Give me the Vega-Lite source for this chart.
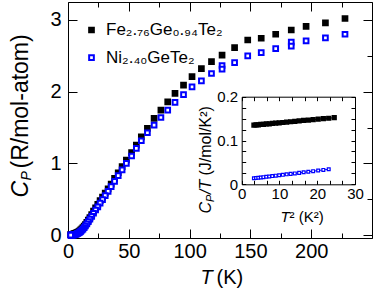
{
  "$schema": "https://vega.github.io/schema/vega-lite/v6.json",
  "width": 304,
  "height": 236,
  "autosize": "none",
  "padding": {"left": 68, "top": 2, "right": 2, "bottom": 53},
  "background": "white",
  "datasets": {
    "main": [
      {"s":"Fe","T":227.8,"C":3.02},{"s":"Fe","T":211.7,"C":2.96},{"s":"Fe","T":195.8,"C":2.91},{"s":"Fe","T":183.6,"C":2.86},{"s":"Fe","T":170.8,"C":2.80},{"s":"Fe","T":158.9,"C":2.745},{"s":"Fe","T":147.8,"C":2.72},{"s":"Fe","T":137,"C":2.615},{"s":"Fe","T":126.7,"C":2.51},{"s":"Fe","T":118,"C":2.42},{"s":"Fe","T":109.7,"C":2.32},{"s":"Fe","T":102,"C":2.21},{"s":"Fe","T":95,"C":2.09},{"s":"Fe","T":88,"C":1.975},{"s":"Fe","T":82,"C":1.858},{"s":"Fe","T":76.4,"C":1.743},{"s":"Fe","T":70.8,"C":1.627},{"s":"Fe","T":65.3,"C":1.488},{"s":"Fe","T":60.3,"C":1.371},{"s":"Fe","T":56.2,"C":1.256},{"s":"Fe","T":52.3,"C":1.149},{"s":"Fe","T":48,"C":1.047},{"s":"Fe","T":44.5,"C":0.954},{"s":"Fe","T":41.3,"C":0.87},{"s":"Fe","T":38.3,"C":0.79},{"s":"Fe","T":35.5,"C":0.71},{"s":"Fe","T":33,"C":0.645},{"s":"Fe","T":30.6,"C":0.585},{"s":"Fe","T":28.4,"C":0.53},{"s":"Fe","T":26.4,"C":0.48},{"s":"Fe","T":24.5,"C":0.43},{"s":"Fe","T":22.7,"C":0.38},{"s":"Fe","T":21,"C":0.335},{"s":"Fe","T":19.5,"C":0.287},{"s":"Fe","T":18,"C":0.244},{"s":"Fe","T":16.7,"C":0.208},{"s":"Fe","T":15.5,"C":0.177},{"s":"Fe","T":14.3,"C":0.148},{"s":"Fe","T":13.3,"C":0.125},{"s":"Fe","T":12.3,"C":0.104},{"s":"Fe","T":11.4,"C":0.087},{"s":"Fe","T":10.5,"C":0.072},{"s":"Fe","T":9.7,"C":0.06},{"s":"Fe","T":9,"C":0.051},{"s":"Fe","T":8.3,"C":0.043},{"s":"Fe","T":7.7,"C":0.037},{"s":"Fe","T":7.1,"C":0.032},{"s":"Fe","T":6.6,"C":0.028},{"s":"Fe","T":6.1,"C":0.024},{"s":"Fe","T":5.6,"C":0.021},{"s":"Fe","T":5.2,"C":0.018},{"s":"Fe","T":4.8,"C":0.016},{"s":"Fe","T":4.4,"C":0.014},{"s":"Fe","T":4,"C":0.012},{"s":"Fe","T":3.7,"C":0.011},{"s":"Fe","T":3.4,"C":0.01},{"s":"Fe","T":3.1,"C":0.009},{"s":"Fe","T":2.8,"C":0.008},{"s":"Fe","T":2.5,"C":0.007},{"s":"Fe","T":2.2,"C":0.006},
      {"s":"Ni","T":227.8,"C":2.80},{"s":"Ni","T":211.7,"C":2.75},{"s":"Ni","T":195.8,"C":2.707},{"s":"Ni","T":183.6,"C":2.69},{"s":"Ni","T":183.6,"C":2.635},{"s":"Ni","T":170.8,"C":2.60},{"s":"Ni","T":158.9,"C":2.545},{"s":"Ni","T":147.8,"C":2.50},{"s":"Ni","T":137,"C":2.406},{"s":"Ni","T":126.7,"C":2.365},{"s":"Ni","T":126.7,"C":2.315},{"s":"Ni","T":118,"C":2.253},{"s":"Ni","T":109.7,"C":2.15},{"s":"Ni","T":102,"C":2.067},{"s":"Ni","T":95,"C":1.96},{"s":"Ni","T":88,"C":1.85},{"s":"Ni","T":82,"C":1.743},{"s":"Ni","T":76.4,"C":1.64},{"s":"Ni","T":70.8,"C":1.534},{"s":"Ni","T":65.3,"C":1.427},{"s":"Ni","T":60.3,"C":1.316},{"s":"Ni","T":56.2,"C":1.21},{"s":"Ni","T":52.3,"C":1.103},{"s":"Ni","T":48,"C":1.0},{"s":"Ni","T":44.5,"C":0.91},{"s":"Ni","T":41.3,"C":0.83},{"s":"Ni","T":38.3,"C":0.75},{"s":"Ni","T":35.5,"C":0.675},{"s":"Ni","T":33,"C":0.61},{"s":"Ni","T":30.6,"C":0.55},{"s":"Ni","T":28.4,"C":0.495},{"s":"Ni","T":26.4,"C":0.445},{"s":"Ni","T":24.5,"C":0.395},{"s":"Ni","T":22.7,"C":0.35},{"s":"Ni","T":21,"C":0.305},{"s":"Ni","T":19.5,"C":0.262},{"s":"Ni","T":18,"C":0.222},{"s":"Ni","T":16.7,"C":0.188},{"s":"Ni","T":15.5,"C":0.157},{"s":"Ni","T":14.3,"C":0.128},{"s":"Ni","T":13.3,"C":0.105},{"s":"Ni","T":12.3,"C":0.085},{"s":"Ni","T":11.4,"C":0.068},{"s":"Ni","T":10.5,"C":0.053},{"s":"Ni","T":9.7,"C":0.042},{"s":"Ni","T":9,"C":0.033},{"s":"Ni","T":8.3,"C":0.026},{"s":"Ni","T":7.7,"C":0.02},{"s":"Ni","T":7.1,"C":0.016},{"s":"Ni","T":6.6,"C":0.012},{"s":"Ni","T":6.1,"C":0.009},{"s":"Ni","T":5.6,"C":0.007},{"s":"Ni","T":5.2,"C":0.0055},{"s":"Ni","T":4.8,"C":0.0045},{"s":"Ni","T":4.4,"C":0.0035},{"s":"Ni","T":4,"C":0.003},{"s":"Ni","T":3.7,"C":0.0025},{"s":"Ni","T":3.4,"C":0.002},{"s":"Ni","T":3.1,"C":0.0017},{"s":"Ni","T":2.8,"C":0.0014},{"s":"Ni","T":2.5,"C":0.0012},{"s":"Ni","T":2.2,"C":0.001}
    ],
    "inset": [
      {"s":"Fe","X":3.24,"Y":0.1351},{"s":"Fe","X":3.8,"Y":0.1356},{"s":"Fe","X":4.41,"Y":0.1359},{"s":"Fe","X":5.06,"Y":0.1366},{"s":"Fe","X":5.76,"Y":0.137},{"s":"Fe","X":6.5,"Y":0.1378},{"s":"Fe","X":7.29,"Y":0.1382},{"s":"Fe","X":8.12,"Y":0.1391},{"s":"Fe","X":9,"Y":0.1396},{"s":"Fe","X":9.92,"Y":0.1405},{"s":"Fe","X":10.89,"Y":0.1411},{"s":"Fe","X":11.9,"Y":0.1421},{"s":"Fe","X":12.96,"Y":0.1428},{"s":"Fe","X":14.06,"Y":0.1438},{"s":"Fe","X":15.21,"Y":0.1446},{"s":"Fe","X":16.4,"Y":0.1457},{"s":"Fe","X":17.64,"Y":0.1465},{"s":"Fe","X":18.92,"Y":0.1477},{"s":"Fe","X":20.25,"Y":0.1486},{"s":"Fe","X":21.62,"Y":0.1499},{"s":"Fe","X":23.04,"Y":0.1508},{"s":"Fe","X":24.5,"Y":0.1521},
      {"s":"Ni","X":3.24,"Y":0.0137},{"s":"Ni","X":3.8,"Y":0.0143},{"s":"Ni","X":4.41,"Y":0.0149},{"s":"Ni","X":5.06,"Y":0.0156},{"s":"Ni","X":5.76,"Y":0.0163},{"s":"Ni","X":6.5,"Y":0.0171},{"s":"Ni","X":7.29,"Y":0.0179},{"s":"Ni","X":8.12,"Y":0.0187},{"s":"Ni","X":9,"Y":0.0197},{"s":"Ni","X":9.92,"Y":0.0206},{"s":"Ni","X":10.89,"Y":0.0216},{"s":"Ni","X":11.9,"Y":0.0227},{"s":"Ni","X":12.96,"Y":0.0238},{"s":"Ni","X":14.06,"Y":0.0249},{"s":"Ni","X":15.21,"Y":0.0261},{"s":"Ni","X":16.4,"Y":0.0274},{"s":"Ni","X":17.64,"Y":0.0286},{"s":"Ni","X":18.92,"Y":0.03},{"s":"Ni","X":20.25,"Y":0.0314},{"s":"Ni","X":21.62,"Y":0.0328},{"s":"Ni","X":23.04,"Y":0.0343}
    ]
  },
  "config": {
    "font": "Liberation Sans",
    "view": {"stroke": "black", "strokeWidth": 1},
    "axis": {"grid": false, "domain": false, "domainColor": "black", "domainWidth": 1, "tickColor": "black", "tickWidth": 1, "labelColor": "black", "titleColor": "black", "labelFont": "Liberation Sans", "titleFont": "Liberation Sans", "titleFontWeight": "normal", "labelFlush": false, "labelOverlap": false, "labelBound": false, "titleAlign": "left", "titleBaseline": "alphabetic", "titlePadding": 0},
    "legend": {"labelFont": "Liberation Sans"}
  },
  "layer": [
    {
      "data": {"name": "main"},
      "layer": [
        {
          "transform": [{"filter": "datum.s == 'Fe'"}],
          "mark": {"type": "point", "shape": "square", "size": 22, "strokeWidth": 2, "opacity": 1},
          "encoding": {
            "x": {"field": "T", "type": "quantitative", "scale": {"domain": [0, 250], "nice": false, "zero": false},
              "axis": {"orient": "bottom", "values": [0,25,50,75,100,125,150,175,200,225,250], "format": "d", "tickSize": {"condition": {"test": "datum.value % 50 == 0", "value": -9}, "value": -5}, "labelExpr": "datum.value % 50 == 0 && datum.value <= 200 ? datum.label : ''", "labelFontSize": 20, "labelPadding": 12, "title": "T", "titleFontStyle": "italic", "titleFontSize": 20, "titleX": 132, "titleY": 45, "titleAngle": 0}},
            "y": {"field": "C", "type": "quantitative", "scale": {"domain": [-0.04, 3.25], "nice": false, "zero": false},
              "axis": {"orient": "left", "values": [0,0.5,1,1.5,2,2.5,3], "format": "d", "tickSize": {"condition": {"test": "datum.value % 1 == 0", "value": -9}, "value": -5}, "labelExpr": "datum.value % 1 == 0 ? datum.label : ''", "labelFontSize": 20, "labelPadding": 16, "title": "C", "titleFontStyle": "italic", "titleFontSize": 23, "titleX": -41, "titleY": 195, "titleAngle": 270}},
            "fill": {"field": "s", "type": "nominal", "scale": {"domain": ["Fe", "Ni"], "range": ["black", "white"]},
              "legend": {"orient": "none", "legendX": 15, "legendY": 19.5, "title": null, "labelExpr": "datum.label == 'Fe' ? 'Fe₂.₇₆Ge₀.₉₄Te₂' : 'Ni₂.₄₀GeTe₂'", "labelFontSize": 17, "labelColor": "black", "symbolType": "square", "symbolSize": 22, "symbolStrokeWidth": 2, "rowPadding": 9.7, "labelOffset": 6, "padding": 0}},
            "stroke": {"field": "s", "type": "nominal", "scale": {"domain": ["Fe", "Ni"], "range": ["black", "#0000ff"]},
              "legend": {"orient": "none", "legendX": 15, "legendY": 19.5, "title": null, "labelExpr": "datum.label == 'Fe' ? 'Fe₂.₇₆Ge₀.₉₄Te₂' : 'Ni₂.₄₀GeTe₂'", "labelFontSize": 17, "labelColor": "black", "symbolType": "square", "symbolSize": 22, "symbolStrokeWidth": 2, "rowPadding": 9.7, "labelOffset": 6, "padding": 0}}
          }
        },
        {
          "transform": [{"filter": "datum.s == 'Ni'"}],
          "mark": {"type": "point", "shape": "square", "size": 22, "strokeWidth": 2, "opacity": 1},
          "encoding": {
            "x": {"field": "T", "type": "quantitative", "scale": {"domain": [0, 250], "nice": false, "zero": false},
              "axis": {"orient": "top", "values": [0,25,50,75,100,125,150,175,200,225,250], "tickSize": {"condition": {"test": "datum.value % 50 == 0", "value": -9}, "value": -5}, "labels": false, "title": "(K)", "titleFontSize": 20, "titleX": 148, "titleY": 281, "titleAngle": 0}},
            "y": {"field": "C", "type": "quantitative", "scale": {"domain": [-0.04, 3.25], "nice": false, "zero": false},
              "axis": {"orient": "right", "values": [0,0.5,1,1.5,2,2.5,3], "tickSize": {"condition": {"test": "datum.value % 1 == 0", "value": -9}, "value": -5}, "labels": false, "title": "P", "titleFontStyle": "italic", "titleFontSize": 14, "titleX": -342, "titleY": 178, "titleAngle": 270}},
            "fill": {"field": "s", "type": "nominal", "scale": {"domain": ["Fe", "Ni"], "range": ["black", "white"]},
              "legend": {"orient": "none", "legendX": 15, "legendY": 19.5, "title": null, "labelExpr": "datum.label == 'Fe' ? 'Fe₂.₇₆Ge₀.₉₄Te₂' : 'Ni₂.₄₀GeTe₂'", "labelFontSize": 17, "labelColor": "black", "symbolType": "square", "symbolSize": 22, "symbolStrokeWidth": 2, "rowPadding": 9.7, "labelOffset": 6, "padding": 0}},
            "stroke": {"field": "s", "type": "nominal", "scale": {"domain": ["Fe", "Ni"], "range": ["black", "#0000ff"]},
              "legend": {"orient": "none", "legendX": 15, "legendY": 19.5, "title": null, "labelExpr": "datum.label == 'Fe' ? 'Fe₂.₇₆Ge₀.₉₄Te₂' : 'Ni₂.₄₀GeTe₂'", "labelFontSize": 17, "labelColor": "black", "symbolType": "square", "symbolSize": 22, "symbolStrokeWidth": 2, "rowPadding": 9.7, "labelOffset": 6, "padding": 0}}
          }
        },
        {
          "mark": {"type": "point", "opacity": 0},
          "encoding": {
            "x": {"field": "T", "type": "quantitative", "scale": {"domain": [0, 250], "nice": false, "zero": false}, "axis": null},
            "y": {"field": "C", "type": "quantitative", "scale": {"domain": [-0.04, 3.25], "nice": false, "zero": false},
              "axis": {"orient": "left", "ticks": false, "labels": false, "title": "(R/mol-atom)", "titleFontSize": 23, "titleX": -41, "titleY": 166, "titleAngle": 270}}
          }
        }
      ],
      "resolve": {"axis": {"x": "independent", "y": "independent"}}
    },
    {
      "data": {"name": "inset"},
      "layer": [
        {
          "mark": {"type": "line", "strokeWidth": 1},
          "encoding": {
            "x": {"field": "X", "type": "quantitative", "scale": {"domain": [0, 30], "range": [173.7, 287], "nice": false, "zero": false},
              "axis": {"orient": "bottom", "ticks": false, "labels": false, "title": "/T", "titleFontStyle": "italic", "titleFontSize": 16, "titleX": 142, "titleY": -44.5, "titleAngle": 270}},
            "y": {"field": "Y", "type": "quantitative", "scale": {"domain": [0, 0.2], "range": [182.3, 94.7], "nice": false, "zero": false},
              "axis": {"orient": "left", "ticks": false, "labels": false, "title": "(J/mol/K²)", "titleFontSize": 16, "titleX": 142, "titleY": 173, "titleAngle": 270}},
            "stroke": {"field": "s", "type": "nominal", "scale": {"domain": ["Fe", "Ni"], "range": ["black", "#0000ff"]},
              "legend": {"orient": "none", "legendX": 15, "legendY": 19.5, "title": null, "labelExpr": "datum.label == 'Fe' ? 'Fe₂.₇₆Ge₀.₉₄Te₂' : 'Ni₂.₄₀GeTe₂'", "labelFontSize": 17, "labelColor": "black", "symbolType": "square", "symbolSize": 22, "symbolStrokeWidth": 2, "rowPadding": 9.7, "labelOffset": 6, "padding": 0}}
          }
        },
        {
          "transform": [{"filter": "datum.s == 'Fe'"}],
          "mark": {"type": "point", "shape": "square", "size": 14, "strokeWidth": 1.5, "opacity": 1},
          "encoding": {
            "x": {"field": "X", "type": "quantitative", "scale": {"domain": [0, 30], "range": [173.7, 287], "nice": false, "zero": false},
              "axis": {"orient": "bottom", "offset": -53.7, "domain": true, "values": [0,3.3333,6.6667,10,13.3333,16.6667,20,23.3333,26.6667,30], "format": "~g", "tickSize": -4, "labelExpr": "datum.value % 10 == 0 ? datum.label : ''", "labelFontSize": 15, "labelPadding": 6, "title": "T", "titleFontStyle": "italic", "titleFontSize": 15, "titleX": 212, "titleY": 36.7, "titleAngle": 0}},
            "y": {"field": "Y", "type": "quantitative", "scale": {"domain": [0, 0.2], "range": [182.3, 94.7], "nice": false, "zero": false},
              "axis": {"orient": "left", "offset": -173.7, "domain": true, "values": [0,0.025,0.05,0.075,0.1,0.125,0.15,0.175,0.2], "format": "~g", "tickSize": -4, "labelExpr": "indexof([0,0.1,0.2], datum.value) >= 0 ? datum.label : ''", "labelFontSize": 15, "labelPadding": 8, "title": "C", "titleFontStyle": "italic", "titleFontSize": 16, "titleX": -31.7, "titleY": 211, "titleAngle": 270}},
            "fill": {"field": "s", "type": "nominal", "scale": {"domain": ["Fe", "Ni"], "range": ["black", "white"]},
              "legend": {"orient": "none", "legendX": 15, "legendY": 19.5, "title": null, "labelExpr": "datum.label == 'Fe' ? 'Fe₂.₇₆Ge₀.₉₄Te₂' : 'Ni₂.₄₀GeTe₂'", "labelFontSize": 17, "labelColor": "black", "symbolType": "square", "symbolSize": 22, "symbolStrokeWidth": 2, "rowPadding": 9.7, "labelOffset": 6, "padding": 0}},
            "stroke": {"field": "s", "type": "nominal", "scale": {"domain": ["Fe", "Ni"], "range": ["black", "#0000ff"]},
              "legend": {"orient": "none", "legendX": 15, "legendY": 19.5, "title": null, "labelExpr": "datum.label == 'Fe' ? 'Fe₂.₇₆Ge₀.₉₄Te₂' : 'Ni₂.₄₀GeTe₂'", "labelFontSize": 17, "labelColor": "black", "symbolType": "square", "symbolSize": 22, "symbolStrokeWidth": 2, "rowPadding": 9.7, "labelOffset": 6, "padding": 0}}
          }
        },
        {
          "transform": [{"filter": "datum.s == 'Ni'"}],
          "mark": {"type": "point", "shape": "square", "size": 8, "strokeWidth": 1.2, "opacity": 1},
          "encoding": {
            "x": {"field": "X", "type": "quantitative", "scale": {"domain": [0, 30], "range": [173.7, 287], "nice": false, "zero": false},
              "axis": {"orient": "top", "offset": -94.7, "domain": true, "values": [0,3.3333,6.6667,10,13.3333,16.6667,20,23.3333,26.6667,30], "tickSize": -4, "labels": false, "title": "² (K²)", "titleFontSize": 15, "titleX": 221, "titleY": 124.3, "titleAngle": 0}},
            "y": {"field": "Y", "type": "quantitative", "scale": {"domain": [0, 0.2], "range": [182.3, 94.7], "nice": false, "zero": false},
              "axis": {"orient": "right", "offset": -17, "domain": true, "values": [0,0.025,0.05,0.075,0.1,0.125,0.15,0.175,0.2], "tickSize": -4, "labels": false, "title": "P", "titleFontStyle": "italic", "titleFontSize": 11, "titleX": -142, "titleY": 199.4, "titleAngle": 270}},
            "fill": {"field": "s", "type": "nominal", "scale": {"domain": ["Fe", "Ni"], "range": ["black", "white"]},
              "legend": {"orient": "none", "legendX": 15, "legendY": 19.5, "title": null, "labelExpr": "datum.label == 'Fe' ? 'Fe₂.₇₆Ge₀.₉₄Te₂' : 'Ni₂.₄₀GeTe₂'", "labelFontSize": 17, "labelColor": "black", "symbolType": "square", "symbolSize": 22, "symbolStrokeWidth": 2, "rowPadding": 9.7, "labelOffset": 6, "padding": 0}},
            "stroke": {"field": "s", "type": "nominal", "scale": {"domain": ["Fe", "Ni"], "range": ["black", "#0000ff"]},
              "legend": {"orient": "none", "legendX": 15, "legendY": 19.5, "title": null, "labelExpr": "datum.label == 'Fe' ? 'Fe₂.₇₆Ge₀.₉₄Te₂' : 'Ni₂.₄₀GeTe₂'", "labelFontSize": 17, "labelColor": "black", "symbolType": "square", "symbolSize": 22, "symbolStrokeWidth": 2, "rowPadding": 9.7, "labelOffset": 6, "padding": 0}}
          }
        }
      ],
      "resolve": {"axis": {"x": "independent", "y": "independent"}}
    }
  ],
  "resolve": {"scale": {"x": "independent", "y": "independent"}}
}
